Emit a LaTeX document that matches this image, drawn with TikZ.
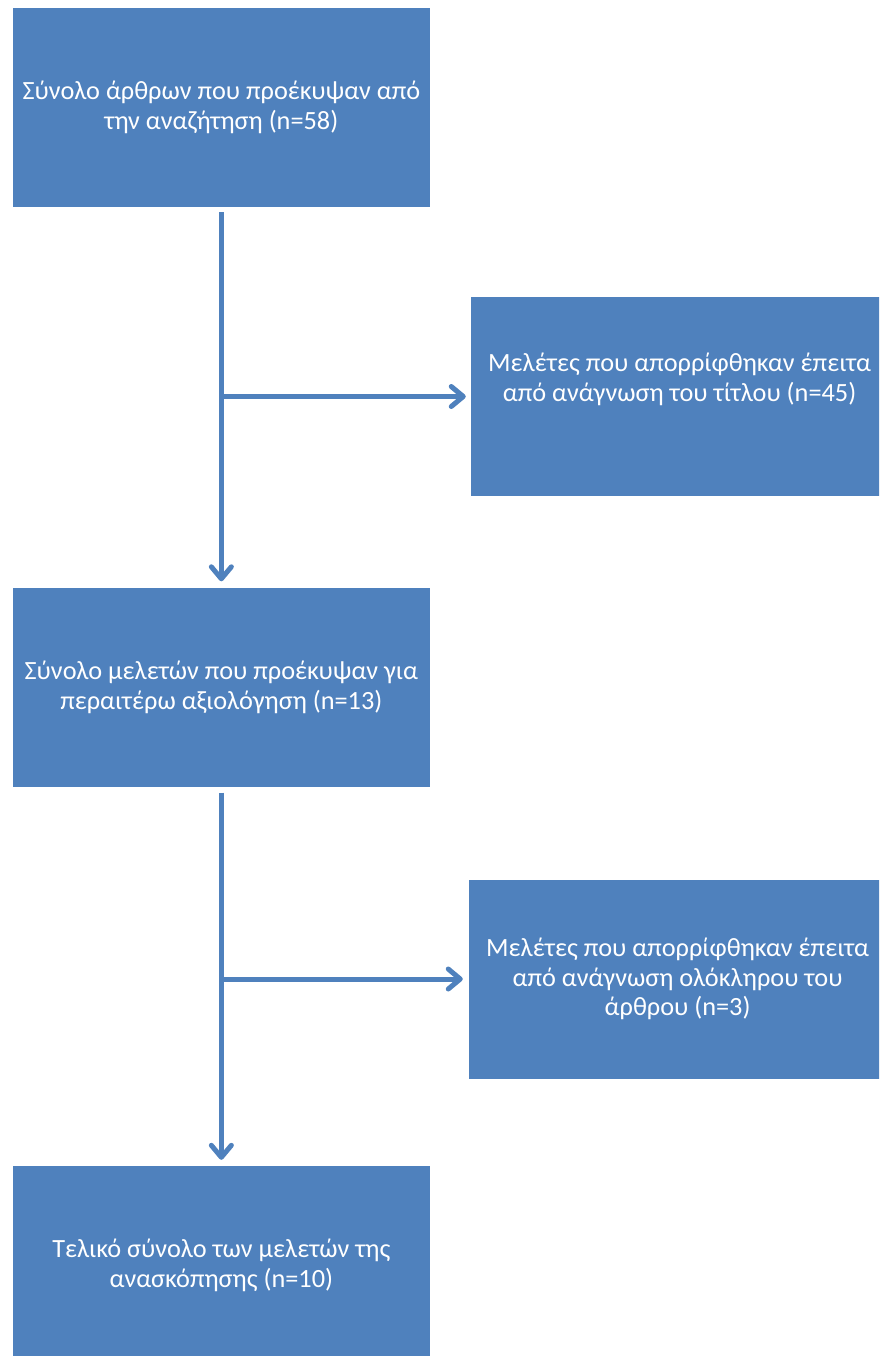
\documentclass[tikz,border=0pt]{standalone}
\usepackage{fontspec}
\setmainfont{Carlito}
\usepackage{tikz}
\usepackage{xcolor}
\usetikzlibrary{arrows.meta,positioning,calc}
\definecolor{boxblue}{HTML}{4F81BD}

\begin{document}
\begin{tikzpicture}[
  x=1pt, y=-1pt,
  stage/.style={fill=boxblue, text=white, minimum width=417.3pt, minimum height=199pt, align=center, inner sep=0pt,
    font=\fontsize{26.3}{29.8}\selectfont},
  flow/.style={draw=boxblue, line width=5pt, -{Straight Barb[length=12pt, width=20pt, round]}}
]
\useasboundingbox (0,0) rectangle (879,1356);
\clip (0,0) rectangle (879,1356);
\node[stage] (found) at (221.35,107.5) {Σύνολο άρθρων που προέκυψαν από\\την αναζήτηση (n=58)\rule[-4pt]{0pt}{1pt}};
\node[stage] (title) at (679.6,396.5) {Μελέτες που απορρίφθηκαν έπειτα\\από ανάγνωση του τίτλου (n=45)\\\strut};
\node[stage] (screen) at (221.35,687) {Σύνολο μελετών που προέκυψαν για\\περαιτέρω αξιολόγηση (n=13)\rule[-4pt]{0pt}{1pt}};
\node[stage] (full) at (677.6,979) {Μελέτες που απορρίφθηκαν έπειτα\\από ανάγνωση ολόκληρου του\\άρθρου (n=3)\rule[-4pt]{0pt}{1pt}};
\node[stage] (final) at (221.35,1265.5) {Τελικό σύνολο των μελετών της\\ανασκόπησης (n=10)\rule[-4pt]{0pt}{1pt}};
\coordinate (split1) at (found.south |- title.west);
\coordinate (split2) at (screen.south |- full.west);
\draw[flow, shorten <=5pt, shorten >=6pt] (found) -- (screen);
\draw[flow, shorten >=5pt] (split1) -- (title.west);
\draw[flow, shorten <=6pt, shorten >=6pt] (screen) -- (final);
\draw[flow, shorten >=6pt] (split2) -- (full.west);
\end{tikzpicture}
\end{document}
